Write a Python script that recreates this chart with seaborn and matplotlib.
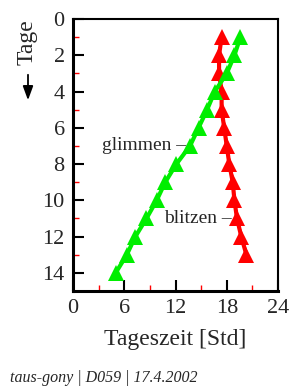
import matplotlib
matplotlib.use("Agg")
import matplotlib.pyplot as plt
import seaborn as sns
import pandas as pd
from matplotlib.ticker import FixedLocator

# Werte
tage_glimmen = list(range(1, 15))
zeit_glimmen = [19.6, 18.9, 18.0, 16.6, 15.7, 14.7, 13.7, 12.1, 10.8, 9.8, 8.6, 7.3, 6.3, 5.0]
tage_blitzen = list(range(1, 14))
zeit_blitzen = [17.4, 17.1, 17.1, 17.4, 17.4, 17.7, 18.0, 18.3, 18.7, 18.9, 19.2, 19.7, 20.3]

x_ticks = [0, 6, 12, 18, 24]
y_ticks = [0, 2, 4, 6, 8, 10, 12, 14]

sns.set_theme(style="ticks")
plt.rcParams['font.family'] = ['Liberation Serif', 'DejaVu Serif']

df_g = pd.DataFrame({"tag": tage_glimmen, "zeit": zeit_glimmen})
df_b = pd.DataFrame({"tag": tage_blitzen, "zeit": zeit_blitzen})

fig = plt.figure(figsize=(2.9, 3.87), dpi=100)
ax = fig.add_axes([73 / 290, 1 - 291 / 387, 205 / 290, 272 / 387])

# orient="y" und estimator=None, damit nichts gemittelt wird
sns.lineplot(data=df_b, x="zeit", y="tag", sort=False, estimator=None, orient="y",
             ax=ax, color="#ff0000", lw=3, marker="^", markersize=11, markeredgewidth=0)
sns.lineplot(data=df_g, x="zeit", y="tag", sort=False, estimator=None, orient="y",
             ax=ax, color="#00ee00", lw=3, marker="^", markersize=11, markeredgewidth=0)

ax.set_xlim(0, 24)
ax.set_ylim(15, 0)
ax.set_xticks(x_ticks)
ax.set_yticks(y_ticks)
ax.xaxis.set_minor_locator(FixedLocator([3, 9, 15, 21]))
ax.yaxis.set_minor_locator(FixedLocator([1, 3, 5, 7, 9, 11, 13]))
ax.tick_params(which="major", direction="in", length=8, width=1.5, color="black",
               labelsize=16, pad=6, top=False, right=False)
ax.tick_params(which="minor", direction="in", length=4, width=1, color="red",
               top=False, right=False)
for s in ["left", "bottom"]:
    ax.spines[s].set_linewidth(2.2)
for s in ["top", "right"]:
    ax.spines[s].set_linewidth(1.5)
for s in ax.spines.values():
    s.set_color("black")

ax.set_xlabel("Tageszeit [Std]", fontsize=17, labelpad=8)
ax.set_ylabel("")

ax.text(13.2, 7.0, "glimmen \u2013", ha="right", va="center", fontsize=14)
ax.text(18.6, 11.0, "blitzen \u2013", ha="right", va="center", fontsize=14)

fig.text(27 / 290, 1 - 42 / 387, "Tage", rotation=90, ha="center", va="center", fontsize=17)
fig.add_artist(matplotlib.patches.FancyArrowPatch(
    (28 / 290, 1 - 72 / 387), (28 / 290, 1 - 103 / 387), transform=fig.transFigure,
    arrowstyle="-|>,head_length=0.6,head_width=0.22", mutation_scale=14, lw=1.3, color="black"))

fig.text(10 / 290, 1 - 378 / 387, "taus-gony | D059 | 17.4.2002", ha="left", va="center",
         fontsize=11.5, style="italic")

fig.savefig("out.png", dpi=100)
